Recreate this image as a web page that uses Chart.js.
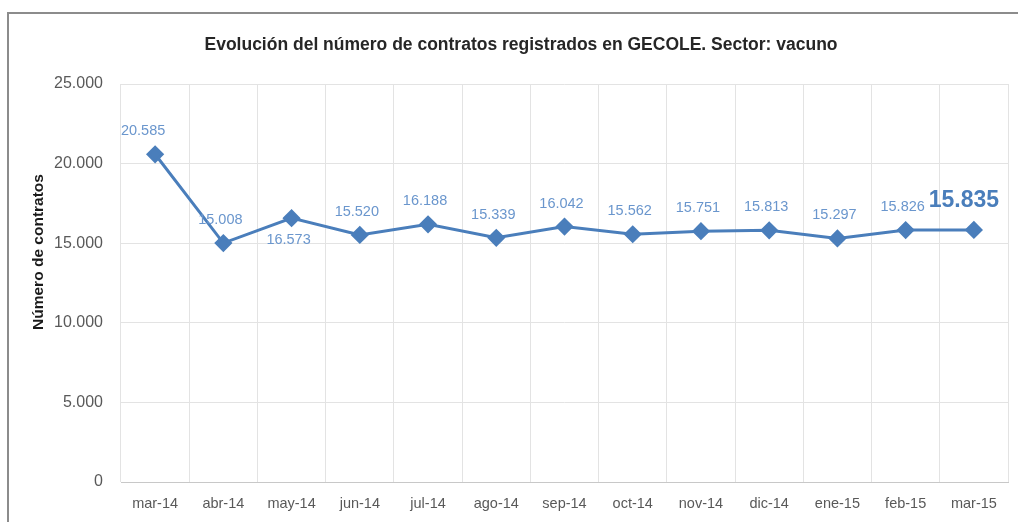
<!DOCTYPE html>
<html>
<head>
<meta charset="utf-8">
<script src="https://cdn.jsdelivr.net/npm/chart.js@4/dist/chart.umd.min.js"></script>
<style>
  html, body { margin: 0; padding: 0; background: #fff; }
  #wrap { width: 1018px; height: 522px; position: relative; }
</style>
</head>
<body>
<div id="wrap"><canvas id="chart" width="1018" height="522"></canvas></div>
<script>
// Datos del gráfico
const meses = ["mar-14", "abr-14", "may-14", "jun-14", "jul-14", "ago-14", "sep-14",
  "oct-14", "nov-14", "dic-14", "ene-15", "feb-15", "mar-15"];
const contratos = [20585, 15008, 16573, 15520, 16188, 15339, 16042,
  15562, 15751, 15813, 15297, 15826, 15835];
const yTicks = [0, 5000, 10000, 15000, 20000, 25000];

const titulo = "Evolución del número de contratos registrados en GECOLE. Sector: vacuno";
const tituloEje = "Número de contratos";

const FONT = "'Liberation Sans', 'DejaVu Sans', sans-serif";
const azul = "#4a7ebb";

// formato español: 15.835
const fmt = v => v.toString().replace(/\B(?=(\d{3})+(?!\d))/g, ".");

// Marco, títulos y etiquetas de datos
const extras = {
  id: "extras",
  beforeDraw(chart) {
    const ctx = chart.ctx;
    ctx.save();
    ctx.strokeStyle = "#8c8c8c";
    ctx.lineWidth = 2;
    ctx.beginPath();
    ctx.moveTo(8, 522);
    ctx.lineTo(8, 13);
    ctx.lineTo(1018, 13);
    ctx.stroke();
    ctx.fillStyle = "#262626";
    ctx.font = "bold 17.5px " + FONT;
    ctx.textAlign = "center";
    ctx.textBaseline = "middle";
    ctx.fillText(titulo, 521, 45);
    // título del eje Y
    ctx.translate(39, 252);
    ctx.rotate(-Math.PI / 2);
    ctx.fillStyle = "#1a1a1a";
    ctx.font = "bold 15.5px " + FONT;
    ctx.fillText(tituloEje, 0, 0);
    ctx.restore();
  },
  afterDatasetsDraw(chart) {
    const ctx = chart.ctx;
    const meta = chart.getDatasetMeta(0);
    const last = contratos.length - 1;
    ctx.save();
    ctx.textAlign = "center";
    ctx.textBaseline = "middle";
    meta.data.forEach((pt, i) => {
      let x = pt.x - 3, y = pt.y - 23;
      if (i === 0) x = pt.x - 12;
      if (i === 2) y = pt.y + 22;
      if (i === last) {
        ctx.font = "bold 23px " + FONT;
        ctx.fillStyle = azul;
        x = pt.x - 10; y = pt.y - 29;
      } else {
        ctx.font = "14.5px " + FONT;
        ctx.fillStyle = "#6a96cd";
      }
      ctx.fillText(fmt(contratos[i]), x, y);
    });
    ctx.restore();
  }
};

new Chart(document.getElementById("chart"), {
  type: "line",
  data: {
    labels: meses,
    datasets: [{
      data: contratos,
      borderColor: azul,
      backgroundColor: azul,
      borderWidth: 3,
      pointStyle: "rectRot",
      pointRadius: 7,
      pointHoverRadius: 7,
      tension: 0
    }]
  },
  options: {
    responsive: false,
    animation: false,
    layout: { padding: { top: 84, right: 4, left: 26, bottom: 0 } },
    plugins: {
      legend: { display: false },
      tooltip: { enabled: false },
      title: { display: false }
    },
    scales: {
      x: {
        offset: true,
        grid: { offset: true, color: "#e3e3e3", drawTicks: false },
        border: { color: "#c8c8c8", width: 1 },
        ticks: { color: "#595959", font: { family: FONT, size: 14.5 }, padding: 13, maxRotation: 0 },
        afterFit(s) { s.height = 40; }
      },
      y: {
        min: 0, max: 25000,
        afterBuildTicks(s) { s.ticks = yTicks.map(v => ({ value: v })); },
        grid: { color: "#e3e3e3", drawTicks: false },
        border: { display: false },
        ticks: { color: "#595959", font: { family: FONT, size: 16 }, padding: 18, callback: v => fmt(v) },
        afterFit(s) { s.width = 95; }
      }
    }
  },
  plugins: [extras]
});
</script>
</body>
</html>
